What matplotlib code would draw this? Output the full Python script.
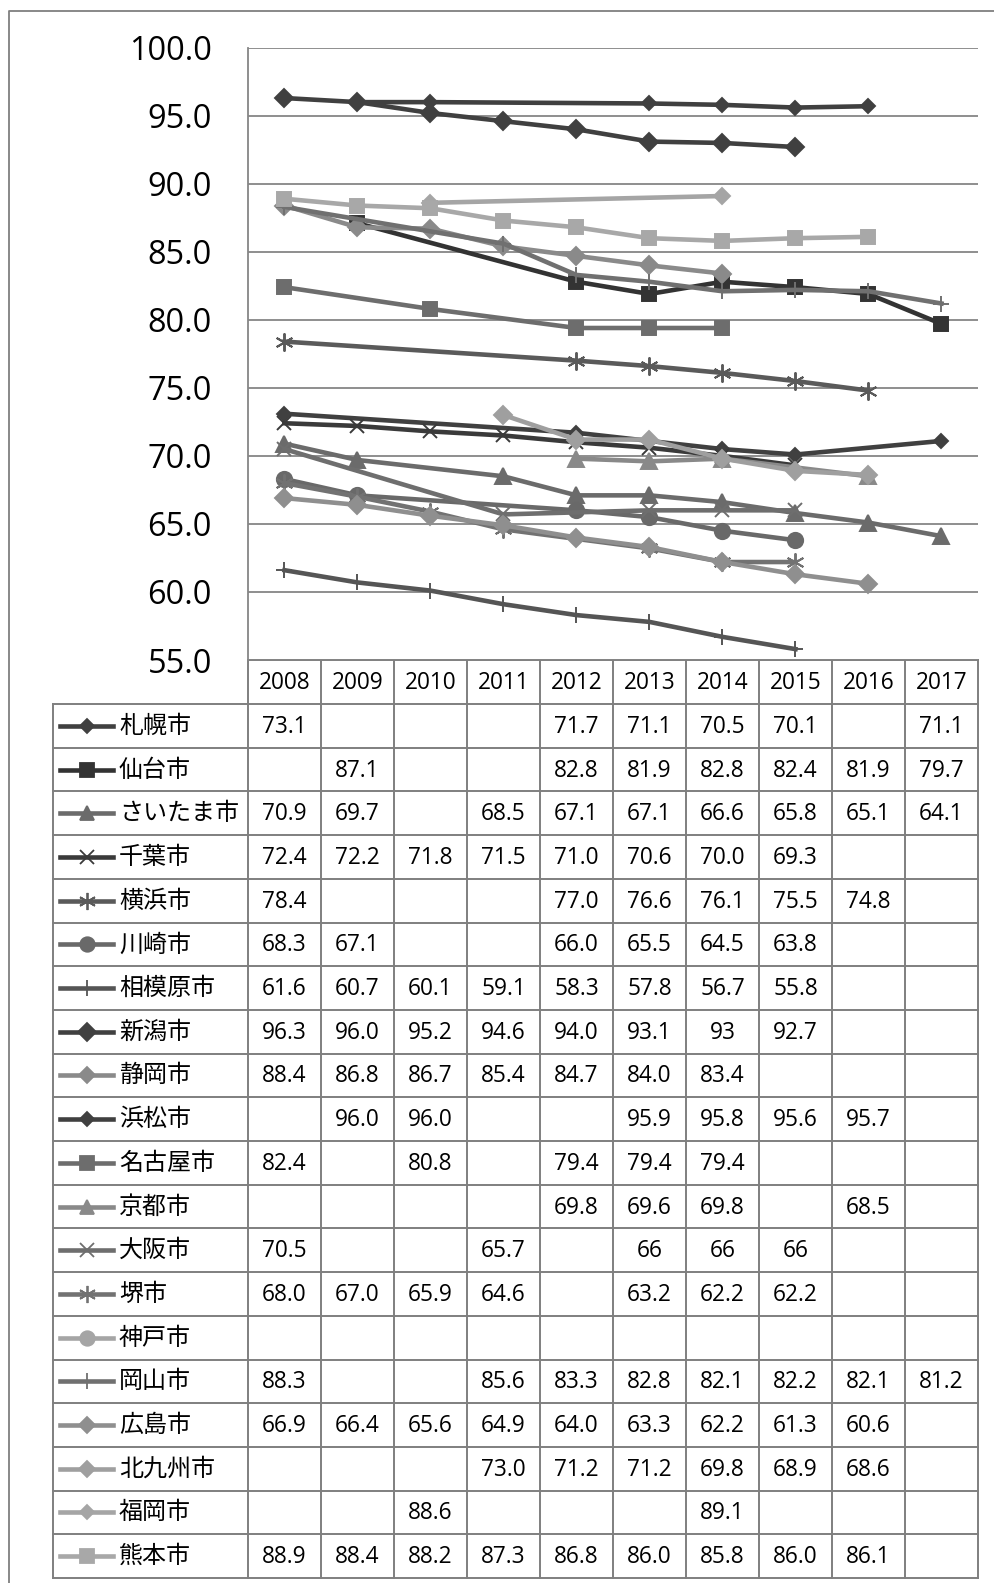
import matplotlib
matplotlib.use("Agg")
import matplotlib.pyplot as plt
import numpy as np

plt.rcParams['font.family'] = ['Open Sans', 'Noto Sans CJK JP']

# data ('' = no value)
years = ['2008', '2009', '2010', '2011', '2012', '2013', '2014', '2015', '2016', '2017']
cities = ['札幌市', '仙台市', 'さいたま市', '千葉市', '横浜市', '川崎市', '相模原市', '新潟市', '静岡市', '浜松市',
          '名古屋市', '京都市', '大阪市', '堺市', '神戸市', '岡山市', '広島市', '北九州市', '福岡市', '熊本市']

sapporo = ['73.1', '', '', '', '71.7', '71.1', '70.5', '70.1', '', '71.1']
sendai = ['', '87.1', '', '', '82.8', '81.9', '82.8', '82.4', '81.9', '79.7']
saitama = ['70.9', '69.7', '', '68.5', '67.1', '67.1', '66.6', '65.8', '65.1', '64.1']
chiba = ['72.4', '72.2', '71.8', '71.5', '71.0', '70.6', '70.0', '69.3', '', '']
yokohama = ['78.4', '', '', '', '77.0', '76.6', '76.1', '75.5', '74.8', '']
kawasaki = ['68.3', '67.1', '', '', '66.0', '65.5', '64.5', '63.8', '', '']
sagamihara = ['61.6', '60.7', '60.1', '59.1', '58.3', '57.8', '56.7', '55.8', '', '']
niigata = ['96.3', '96.0', '95.2', '94.6', '94.0', '93.1', '93', '92.7', '', '']
shizuoka = ['88.4', '86.8', '86.7', '85.4', '84.7', '84.0', '83.4', '', '', '']
hamamatsu = ['', '96.0', '96.0', '', '', '95.9', '95.8', '95.6', '95.7', '']
nagoya = ['82.4', '', '80.8', '', '79.4', '79.4', '79.4', '', '', '']
kyoto = ['', '', '', '', '69.8', '69.6', '69.8', '', '68.5', '']
osaka = ['70.5', '', '', '65.7', '', '66', '66', '66', '', '']
sakai = ['68.0', '67.0', '65.9', '64.6', '', '63.2', '62.2', '62.2', '', '']
kobe = ['', '', '', '', '', '', '', '', '', '']
okayama = ['88.3', '', '', '85.6', '83.3', '82.8', '82.1', '82.2', '82.1', '81.2']
hiroshima = ['66.9', '66.4', '65.6', '64.9', '64.0', '63.3', '62.2', '61.3', '60.6', '']
kitakyushu = ['', '', '', '73.0', '71.2', '71.2', '69.8', '68.9', '68.6', '']
fukuoka = ['', '', '88.6', '', '', '', '89.1', '', '', '']
kumamoto = ['88.9', '88.4', '88.2', '87.3', '86.8', '86.0', '85.8', '86.0', '86.1', '']

series = [sapporo, sendai, saitama, chiba, yokohama, kawasaki, sagamihara, niigata, shizuoka, hamamatsu,
          nagoya, kyoto, osaka, sakai, kobe, okayama, hiroshima, kitakyushu, fukuoka, kumamoto]

# styles: colour, marker, marker size
star = (6, 2, 0)
styles = [
    ('#404040', 'D', 7.5), ('#333333', 's', 10), ('#6b6b6b', '^', 11), ('#3a3a3a', 'x', 10.5),
    ('#5a5a5a', star, 13), ('#696969', 'o', 11), ('#555555', '+', 12), ('#404040', 'D', 9.5),
    ('#8a8a8a', 'D', 9), ('#404040', 'D', 7.5), ('#6d6d6d', 's', 10), ('#898989', '^', 11),
    ('#6e6e6e', 'x', 10.5), ('#727272', star, 13), ('#a5a5a5', 'o', 11), ('#707070', '+', 12),
    ('#8f8f8f', 'D', 9), ('#9f9f9f', 'D', 9), ('#a5a5a5', 'D', 8), ('#a8a8a8', 's', 10.5),
]

W, H = 995, 1583
fig = plt.figure(figsize=(W / 100, H / 100), dpi=100)
fig.patch.set_facecolor('white')

# overlay in pixel coordinates for border + data table
ov = fig.add_axes([0, 0, 1, 1])
ov.set_xlim(0, W)
ov.set_ylim(H, 0)
ov.axis('off')

px_left, px_right, px_top, px_bottom = 248, 978, 47.7, 660
ax = fig.add_axes([px_left / W, 1 - px_bottom / H, (px_right - px_left) / W, (px_bottom - px_top) / H])
ax.patch.set_alpha(0)

grid_c = '#868686'
x = np.arange(len(years))
for vals, (c, m, ms) in zip(series, styles):
    y = np.array([float(v) if v else np.nan for v in vals])
    ok = ~np.isnan(y)
    if not ok.any():
        continue
    ax.plot(x[ok], y[ok], color=c, lw=3.3, marker=m, ms=ms, mfc=c, mec=c, mew=1.4,
            solid_joinstyle='round', clip_on=False)

ax.set_xlim(-0.5, len(years) - 0.5)
ax.set_ylim(55, 100)
yt = np.arange(55, 101, 5)
ax.set_yticks(yt)
ax.set_yticklabels([f'{v:.1f}' for v in yt], fontsize=23.4)
ax.tick_params(axis='y', length=0, pad=26)
ax.set_xticks([])
for v in yt:
    ax.axhline(v, color=grid_c, lw=1.3, zorder=0)
for s in ['top', 'right', 'bottom']:
    ax.spines[s].set_visible(False)
ax.spines['left'].set_color(grid_c)
ax.spines['left'].set_linewidth(1.3)

# outer chart border
ov.plot([8.5, 8.5, 1100], [1700, 10.5, 10.5], color='#7f7f7f', lw=1.3)

# data table
line_c = '#7f7f7f'
col_w = (px_right - px_left) / len(years)
hdr_top, row0 = 660, 704
row_h = (1578 - row0) / len(cities)
leg_left = 53
tbl_bottom = row0 + row_h * len(cities)

ov.plot([px_left, px_right], [hdr_top, hdr_top], color=line_c, lw=1.4)
for k in range(len(cities) + 1):
    yy = row0 + k * row_h
    ov.plot([leg_left, px_right], [yy, yy], color=line_c, lw=1.4)
for i in range(len(years) + 1):
    xx = px_left + i * col_w
    ov.plot([xx, xx], [hdr_top, tbl_bottom], color=line_c, lw=1.4)
ov.plot([leg_left, leg_left], [row0, tbl_bottom], color=line_c, lw=1.4)

for i, yr in enumerate(years):
    ov.text(px_left + (i + 0.5) * col_w, (hdr_top + row0) / 2 + 1, yr, ha='center', va='center', fontsize=16.3)

for k, (name, vals, (c, m, ms)) in enumerate(zip(cities, series, styles)):
    yc = row0 + (k + 0.5) * row_h
    ov.plot([60, 113], [yc, yc], color=c, lw=3.3)
    ov.plot([86.5], [yc], color=c, marker=m, ms=ms * 0.95, mfc=c, mec=c, mew=1.3)
    ov.text(119, yc + 1, name, ha='left', va='center', fontsize=17.3)
    for i, v in enumerate(vals):
        if v:
            ov.text(px_left + (i + 0.5) * col_w, yc + 1, v, ha='center', va='center', fontsize=16.3)

fig.savefig('out.png', dpi=100)
